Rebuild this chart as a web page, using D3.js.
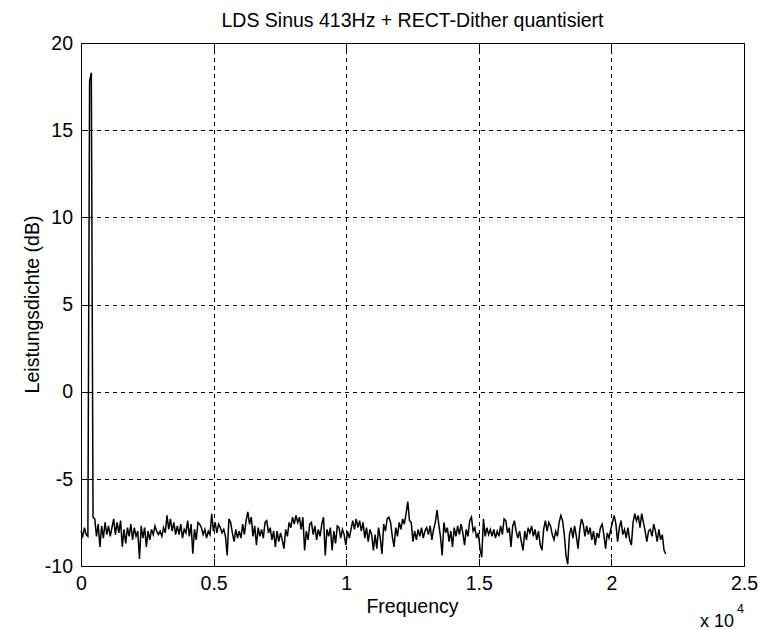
<!DOCTYPE html>
<html><head><meta charset="utf-8">
<script src="https://cdn.jsdelivr.net/npm/d3@7/dist/d3.min.js"></script>
<style>body{margin:0;background:#fff}svg{display:block}</style>
</head><body><svg id="chart" width="760" height="630"></svg>
<script>
const titleText = "LDS Sinus 413Hz + RECT-Dither quantisiert";
const xLabelText = "Frequency";
const yLabelText = "Leistungsdichte (dB)";
const xExponentBase = "x 10";
const xExponentPower = "4";
const xTicks = [0, 5000, 10000, 15000, 20000, 25000];
const xTickLabels = ["0", "0.5", "1", "1.5", "2", "2.5"];
const yTicks = [-10, -5, 0, 5, 10, 15, 20];
const yTickLabels = ["-10", "-5", "0", "5", "10", "15", "20"];
const xDomain = [0, 25000];
const yDomain = [-10, 20];
const fMax = 22050; // last frequency bin (Hz)
// power spectral density (dB), equally spaced bins from 0 to fMax
const ldsValues = [
-8.0,-8.3,-7.8,-8.2,-8.3,17.8,18.3,-7.2,-7.3,-8.3,
-7.6,-8.9,-7.7,-8.4,-7.5,-8.2,-7.7,-8.3,-7.8,-7.3,
-8.2,-7.5,-8.1,-7.4,-8.9,-7.9,-8.7,-7.8,-8.3,-7.6,
-8.5,-7.8,-8.3,-8.0,-9.6,-7.7,-8.4,-7.8,-8.9,-8.0,
-8.5,-7.9,-8.2,-7.7,-8.0,-8.2,-8.0,-8.3,-7.8,-8.1,
-7.1,-7.9,-7.3,-8.0,-7.5,-8.2,-7.7,-8.2,-7.6,-8.4,
-7.9,-8.1,-7.4,-8.3,-7.6,-9.3,-7.9,-8.5,-7.5,-7.6,
-7.8,-8.2,-7.9,-8.4,-8.0,-8.2,-7.0,-8.0,-7.5,-8.1,
-7.6,-7.8,-8.1,-7.9,-8.3,-9.4,-7.3,-7.5,-8.1,-8.6,
-7.9,-8.4,-8.0,-8.4,-7.6,-8.2,-7.4,-6.9,-7.6,-7.2,
-8.3,-7.7,-8.8,-7.8,-8.3,-7.9,-8.4,-7.5,-7.4,-8.1,
-7.8,-8.5,-8.0,-8.9,-8.0,-8.6,-8.1,-8.5,-9.0,-7.9,
-8.3,-7.5,-7.8,-7.2,-7.6,-7.1,-7.5,-7.2,-7.9,-7.2,
-9.1,-8.0,-8.5,-7.6,-7.5,-8.2,-7.7,-8.5,-7.9,-8.3,
-7.6,-7.2,-9.4,-7.9,-8.3,-7.8,-9.1,-8.0,-8.7,-7.7,
-7.8,-8.4,-7.9,-8.2,-8.8,-8.0,-8.4,-7.9,-7.4,-7.9,
-7.3,-7.8,-7.4,-8.0,-7.5,-8.4,-7.8,-8.6,-7.9,-8.2,
-9.1,-8.2,-9.0,-7.8,-8.4,-9.3,-7.6,-8.0,-7.3,-7.2,
-7.5,-8.3,-8.9,-7.8,-8.3,-7.5,-7.9,-7.3,-7.6,-7.0,
-6.3,-7.4,-7.5,-8.6,-8.0,-8.5,-7.9,-8.3,-7.8,-8.4,
-8.0,-7.8,-8.2,-7.7,-8.5,-7.9,-7.5,-6.8,-7.6,-8.3,
-9.4,-7.5,-8.1,-7.8,-8.6,-8.0,-8.9,-7.8,-8.3,-7.7,
-8.2,-7.6,-8.1,-8.8,-7.9,-8.3,-7.4,-7.2,-8.0,-7.8,
-8.4,-8.1,-9.0,-9.5,-7.3,-8.3,-7.8,-8.2,-7.9,-8.3,
-7.9,-8.4,-8.0,-8.3,-7.7,-8.2,-7.3,-7.4,-8.1,-7.8,
-8.9,-7.7,-7.4,-8.0,-8.4,-8.0,-8.6,-9.1,-8.0,-8.5,
-7.8,-8.1,-7.7,-8.3,-7.9,-8.5,-8.0,-8.8,-9.1,-7.9,
-7.4,-8.0,-7.5,-7.7,-8.2,-8.5,-8.0,-8.3,-7.5,-7.1,
-7.4,-8.2,-9.4,-9.9,-8.2,-7.8,-8.4,-7.7,-8.3,-9.0,
-7.9,-7.3,-7.6,-8.3,-7.7,-8.2,-7.8,-8.5,-8.0,-8.8,
-8.1,-8.4,-7.8,-7.6,-8.2,-9.0,-8.1,-8.4,-7.9,-7.5,
-7.1,-7.6,-8.6,-7.8,-7.4,-8.2,-7.9,-8.4,-7.8,-8.5,
-8.8,-7.5,-7.0,-7.4,-7.1,-7.8,-7.0,-7.5,-8.0,-8.6,
-8.0,-7.9,-8.3,-7.6,-8.0,-8.6,-7.9,-8.5,-8.2,-9.1,
-9.3
];

const FONT = "'Liberation Sans', Arial, Helvetica, sans-serif";
const FS = 19.5;
const plot = {left: 81, right: 744, top: 43, bottom: 566};

const svg = d3.select("#chart");
svg.append("rect").attr("width", 760).attr("height", 630).attr("fill", "#fff");

const x = d3.scaleLinear().domain(xDomain).range([plot.left, plot.right]);
const y = d3.scaleLinear().domain(yDomain).range([plot.bottom, plot.top]);

const data = ldsValues.map((v, i) => ({f: i * fMax / (ldsValues.length - 1), v}));

// grid
const gridG = svg.append("g").attr("shape-rendering", "crispEdges");
gridG.append("g").attr("transform", `translate(0,${plot.bottom})`)
  .call(d3.axisBottom(x).tickValues(xTicks).tickSize(-(plot.bottom - plot.top)).tickFormat(""))
  .call(g => g.select(".domain").remove());
gridG.append("g").attr("transform", `translate(${plot.left},0)`)
  .call(d3.axisLeft(y).tickValues(yTicks).tickSize(-(plot.right - plot.left)).tickFormat(""))
  .call(g => g.select(".domain").remove());
gridG.selectAll("line").attr("stroke", "#000").attr("stroke-width", 1).attr("stroke-dasharray", "4,4");

// data line
const line = d3.line().x(d => x(d.f)).y(d => y(d.v));
svg.append("path").datum(data).attr("d", line)
  .attr("fill", "none").attr("stroke", "#000").attr("stroke-width", 1.5)
  .attr("stroke-linejoin", "miter");

// box
svg.append("rect").attr("x", plot.left + 0.5).attr("y", plot.top + 0.5)
  .attr("width", plot.right - plot.left).attr("height", plot.bottom - plot.top)
  .attr("fill", "none").attr("stroke", "#000").attr("stroke-width", 1)
  .attr("shape-rendering", "crispEdges");

// axes with inside ticks
function styleAxis(g) {
  g.select(".domain").remove();
  g.selectAll("line").attr("stroke", "#000").attr("shape-rendering", "crispEdges");
  g.selectAll("text").attr("fill", "#000").style("font-family", FONT).style("font-size", FS + "px");
}
svg.append("g").attr("transform", `translate(0,${plot.bottom})`)
  .call(d3.axisBottom(x).tickValues(xTicks).tickFormat((d, i) => xTickLabels[i])
    .tickSizeInner(-7).tickSizeOuter(0).tickPadding(10.5))
  .call(styleAxis);
svg.append("g").attr("transform", `translate(${plot.left},0)`)
  .call(d3.axisLeft(y).tickValues(yTicks).tickFormat((d, i) => yTickLabels[i])
    .tickSizeInner(-7).tickSizeOuter(0).tickPadding(8))
  .call(styleAxis);
svg.append("g").attr("transform", `translate(0,${plot.top})`)
  .call(d3.axisTop(x).tickValues(xTicks).tickFormat("").tickSizeInner(-7).tickSizeOuter(0))
  .call(styleAxis);
svg.append("g").attr("transform", `translate(${plot.right},0)`)
  .call(d3.axisRight(y).tickValues(yTicks).tickFormat("").tickSizeInner(-7).tickSizeOuter(0))
  .call(styleAxis);

// title and labels
svg.append("text").attr("x", (plot.left + plot.right) / 2).attr("y", 27)
  .attr("text-anchor", "middle").style("font-family", FONT).style("font-size", FS + "px")
  .text(titleText);
svg.append("text").attr("x", (plot.left + plot.right) / 2).attr("y", 613)
  .attr("text-anchor", "middle").style("font-family", FONT).style("font-size", FS + "px")
  .text(xLabelText);
svg.append("text").attr("transform", `translate(39,${(plot.top + plot.bottom) / 2}) rotate(-90)`)
  .attr("text-anchor", "middle").style("font-family", FONT).style("font-size", FS + "px")
  .text(yLabelText);
svg.append("text").attr("x", 700).attr("y", 627)
  .style("font-family", FONT).style("font-size", "18px").text(xExponentBase);
svg.append("text").attr("x", 737).attr("y", 613)
  .style("font-family", FONT).style("font-size", "12.5px").text(xExponentPower);
</script>
</body></html>
